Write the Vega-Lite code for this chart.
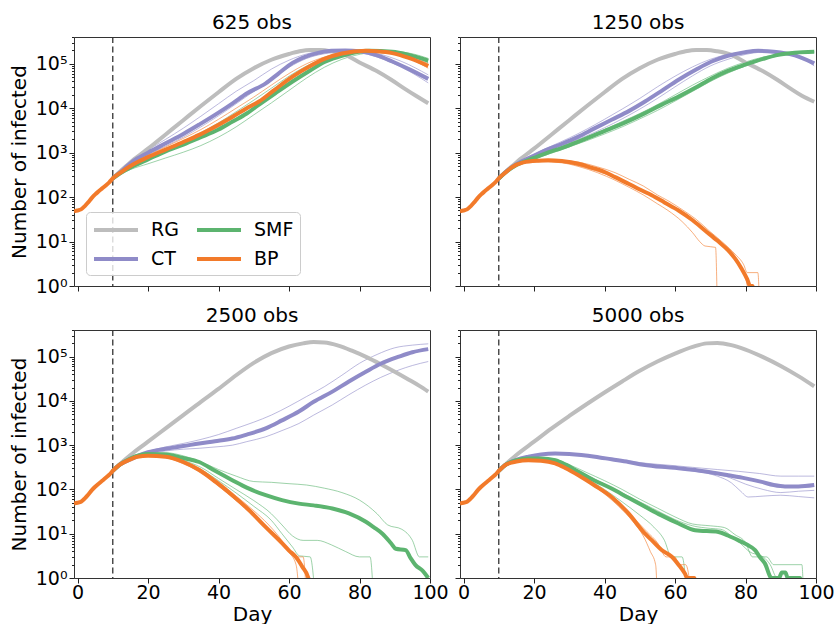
{
"$schema":"https://vega.github.io/schema/vega-lite/v6.json",
"background":"white",
"padding":{"left":8,"top":12,"right":5,"bottom":0},
"config":{
 "font":"DejaVu Sans",
 "view":{"stroke":"#333","strokeWidth":1},
 "axis":{"labelFont":"DejaVu Sans","titleFont":"DejaVu Sans","labelFontSize":19,"titleFontSize":20,"titleFontWeight":"normal","labelColor":"#000","titleColor":"#000","tickColor":"#222","domain":false,"grid":false},
 "title":{"font":"DejaVu Sans","fontSize":20,"fontWeight":"normal","color":"#000","offset":3,"frame":"group","anchor":"middle"}
},
"datasets":{"c":[
{"p":"a","m":"RG","s":"m","d":10,"v":263},{"p":"a","m":"RG","s":"m","d":12,"v":372},{"p":"a","m":"RG","s":"m","d":14,"v":513},{"p":"a","m":"RG","s":"m","d":16,"v":708},{"p":"a","m":"RG","s":"m","d":18,"v":933},{"p":"a","m":"RG","s":"m","d":20,"v":1230},{"p":"a","m":"RG","s":"m","d":25,"v":2570},{"p":"a","m":"RG","s":"m","d":30,"v":5370},{"p":"a","m":"RG","s":"m","d":35,"v":11200},{"p":"a","m":"RG","s":"m","d":40,"v":22900},{"p":"a","m":"RG","s":"m","d":45,"v":45700},{"p":"a","m":"RG","s":"m","d":50,"v":79400},{"p":"a","m":"RG","s":"m","d":55,"v":123000},{"p":"a","m":"RG","s":"m","d":60,"v":166000},{"p":"a","m":"RG","s":"m","d":63,"v":190500},{"p":"a","m":"RG","s":"m","d":66,"v":204000},{"p":"a","m":"RG","s":"m","d":69,"v":204000},{"p":"a","m":"RG","s":"m","d":72,"v":190500},{"p":"a","m":"RG","s":"m","d":76,"v":158500},{"p":"a","m":"RG","s":"m","d":80,"v":107000},{"p":"a","m":"RG","s":"m","d":85,"v":67600},{"p":"a","m":"RG","s":"m","d":89,"v":43600},{"p":"a","m":"RG","s":"m","d":93,"v":26900},{"p":"a","m":"RG","s":"m","d":96,"v":19050},{"p":"a","m":"RG","s":"m","d":99.5,"v":12900},
{"p":"a","m":"CT","s":"m","d":10,"v":263},{"p":"a","m":"CT","s":"m","d":12,"v":355},{"p":"a","m":"CT","s":"m","d":15.6,"v":631},{"p":"a","m":"CT","s":"m","d":20,"v":1000},{"p":"a","m":"CT","s":"m","d":25,"v":1622},{"p":"a","m":"CT","s":"m","d":30,"v":2630},{"p":"a","m":"CT","s":"m","d":34.5,"v":4266},{"p":"a","m":"CT","s":"m","d":40,"v":7943},{"p":"a","m":"CT","s":"m","d":44,"v":12880},{"p":"a","m":"CT","s":"m","d":48,"v":21380},{"p":"a","m":"CT","s":"m","d":53.4,"v":36310},{"p":"a","m":"CT","s":"m","d":57,"v":60260},{"p":"a","m":"CT","s":"m","d":61,"v":104700},{"p":"a","m":"CT","s":"m","d":64,"v":138000},{"p":"a","m":"CT","s":"m","d":68,"v":173800},{"p":"a","m":"CT","s":"m","d":72,"v":195000},{"p":"a","m":"CT","s":"m","d":76,"v":199500},{"p":"a","m":"CT","s":"m","d":80,"v":190500},{"p":"a","m":"CT","s":"m","d":85,"v":154900},{"p":"a","m":"CT","s":"m","d":89.3,"v":112200},{"p":"a","m":"CT","s":"m","d":94,"v":75860},{"p":"a","m":"CT","s":"m","d":99.5,"v":45710},
{"p":"a","m":"CT","s":"1","d":10,"v":263},{"p":"a","m":"CT","s":"1","d":15,"v":661},{"p":"a","m":"CT","s":"1","d":20,"v":1148},{"p":"a","m":"CT","s":"1","d":25,"v":1995},{"p":"a","m":"CT","s":"1","d":30,"v":3548},{"p":"a","m":"CT","s":"1","d":35,"v":6607},{"p":"a","m":"CT","s":"1","d":40,"v":12590},{"p":"a","m":"CT","s":"1","d":45,"v":23990},{"p":"a","m":"CT","s":"1","d":50,"v":41690},{"p":"a","m":"CT","s":"1","d":55,"v":75860},{"p":"a","m":"CT","s":"1","d":60,"v":120200},{"p":"a","m":"CT","s":"1","d":65,"v":166000},{"p":"a","m":"CT","s":"1","d":72,"v":199500},{"p":"a","m":"CT","s":"1","d":78,"v":190500},{"p":"a","m":"CT","s":"1","d":85,"v":141300},{"p":"a","m":"CT","s":"1","d":92,"v":83180},{"p":"a","m":"CT","s":"1","d":99.5,"v":37150},
{"p":"a","m":"CT","s":"2","d":10,"v":263},{"p":"a","m":"CT","s":"2","d":15,"v":575},{"p":"a","m":"CT","s":"2","d":20,"v":912},{"p":"a","m":"CT","s":"2","d":25,"v":1413},{"p":"a","m":"CT","s":"2","d":30,"v":2239},{"p":"a","m":"CT","s":"2","d":35,"v":3802},{"p":"a","m":"CT","s":"2","d":40,"v":6761},{"p":"a","m":"CT","s":"2","d":45,"v":12590},{"p":"a","m":"CT","s":"2","d":50,"v":23990},{"p":"a","m":"CT","s":"2","d":55,"v":44670},{"p":"a","m":"CT","s":"2","d":60,"v":83180},{"p":"a","m":"CT","s":"2","d":65,"v":131800},{"p":"a","m":"CT","s":"2","d":72,"v":177800},{"p":"a","m":"CT","s":"2","d":78,"v":195000},{"p":"a","m":"CT","s":"2","d":85,"v":169800},{"p":"a","m":"CT","s":"2","d":92,"v":112200},{"p":"a","m":"CT","s":"2","d":99.5,"v":56230},
{"p":"a","m":"SMF","s":"m","d":10,"v":263},{"p":"a","m":"SMF","s":"m","d":12,"v":339},{"p":"a","m":"SMF","s":"m","d":15.6,"v":490},{"p":"a","m":"SMF","s":"m","d":20,"v":708},{"p":"a","m":"SMF","s":"m","d":25,"v":1072},{"p":"a","m":"SMF","s":"m","d":30,"v":1514},{"p":"a","m":"SMF","s":"m","d":34.5,"v":2138},{"p":"a","m":"SMF","s":"m","d":40,"v":3311},{"p":"a","m":"SMF","s":"m","d":44,"v":5012},{"p":"a","m":"SMF","s":"m","d":48,"v":7586},{"p":"a","m":"SMF","s":"m","d":51.5,"v":12020},{"p":"a","m":"SMF","s":"m","d":56,"v":21380},{"p":"a","m":"SMF","s":"m","d":61,"v":39810},{"p":"a","m":"SMF","s":"m","d":66,"v":70790},{"p":"a","m":"SMF","s":"m","d":70.4,"v":112200},{"p":"a","m":"SMF","s":"m","d":75,"v":151400},{"p":"a","m":"SMF","s":"m","d":82.7,"v":195000},{"p":"a","m":"SMF","s":"m","d":89.3,"v":186200},{"p":"a","m":"SMF","s":"m","d":94,"v":158500},{"p":"a","m":"SMF","s":"m","d":99.5,"v":117500},
{"p":"a","m":"SMF","s":"1","d":10,"v":263},{"p":"a","m":"SMF","s":"1","d":15,"v":417},{"p":"a","m":"SMF","s":"1","d":20,"v":562},{"p":"a","m":"SMF","s":"1","d":25,"v":759},{"p":"a","m":"SMF","s":"1","d":30,"v":1023},{"p":"a","m":"SMF","s":"1","d":35,"v":1445},{"p":"a","m":"SMF","s":"1","d":40,"v":2239},{"p":"a","m":"SMF","s":"1","d":45,"v":3802},{"p":"a","m":"SMF","s":"1","d":50,"v":7079},{"p":"a","m":"SMF","s":"1","d":55,"v":13180},{"p":"a","m":"SMF","s":"1","d":60,"v":25120},{"p":"a","m":"SMF","s":"1","d":65,"v":47860},{"p":"a","m":"SMF","s":"1","d":70,"v":83180},{"p":"a","m":"SMF","s":"1","d":75,"v":125900},{"p":"a","m":"SMF","s":"1","d":82,"v":173800},{"p":"a","m":"SMF","s":"1","d":88,"v":190500},{"p":"a","m":"SMF","s":"1","d":94,"v":173800},{"p":"a","m":"SMF","s":"1","d":99.5,"v":131800},
{"p":"a","m":"SMF","s":"2","d":10,"v":263},{"p":"a","m":"SMF","s":"2","d":15,"v":525},{"p":"a","m":"SMF","s":"2","d":20,"v":794},{"p":"a","m":"SMF","s":"2","d":25,"v":1202},{"p":"a","m":"SMF","s":"2","d":30,"v":1820},{"p":"a","m":"SMF","s":"2","d":35,"v":2818},{"p":"a","m":"SMF","s":"2","d":40,"v":4677},{"p":"a","m":"SMF","s":"2","d":45,"v":8318},{"p":"a","m":"SMF","s":"2","d":50,"v":15140},{"p":"a","m":"SMF","s":"2","d":55,"v":28180},{"p":"a","m":"SMF","s":"2","d":60,"v":52480},{"p":"a","m":"SMF","s":"2","d":65,"v":89130},{"p":"a","m":"SMF","s":"2","d":70,"v":131800},{"p":"a","m":"SMF","s":"2","d":76,"v":173800},{"p":"a","m":"SMF","s":"2","d":83,"v":195000},{"p":"a","m":"SMF","s":"2","d":90,"v":182000},{"p":"a","m":"SMF","s":"2","d":95,"v":151400},{"p":"a","m":"SMF","s":"2","d":99.5,"v":104700},
{"p":"a","m":"BP","s":"m","d":-1,"v":48},{"p":"a","m":"BP","s":"m","d":0,"v":50},{"p":"a","m":"BP","s":"m","d":1,"v":53},{"p":"a","m":"BP","s":"m","d":2,"v":62},{"p":"a","m":"BP","s":"m","d":3,"v":76},{"p":"a","m":"BP","s":"m","d":4,"v":95},{"p":"a","m":"BP","s":"m","d":5,"v":115},{"p":"a","m":"BP","s":"m","d":6,"v":135},{"p":"a","m":"BP","s":"m","d":7,"v":157},{"p":"a","m":"BP","s":"m","d":8,"v":183},{"p":"a","m":"BP","s":"m","d":9,"v":215},{"p":"a","m":"BP","s":"m","d":10,"v":263},{"p":"a","m":"BP","s":"m","d":12,"v":347},{"p":"a","m":"BP","s":"m","d":15.6,"v":537},{"p":"a","m":"BP","s":"m","d":20,"v":794},{"p":"a","m":"BP","s":"m","d":25,"v":1175},{"p":"a","m":"BP","s":"m","d":30,"v":1738},{"p":"a","m":"BP","s":"m","d":34.5,"v":2512},{"p":"a","m":"BP","s":"m","d":40,"v":4266},{"p":"a","m":"BP","s":"m","d":44,"v":6457},{"p":"a","m":"BP","s":"m","d":48,"v":10000},{"p":"a","m":"BP","s":"m","d":51.5,"v":14130},{"p":"a","m":"BP","s":"m","d":56,"v":26300},{"p":"a","m":"BP","s":"m","d":61,"v":51290},{"p":"a","m":"BP","s":"m","d":66,"v":89130},{"p":"a","m":"BP","s":"m","d":70.4,"v":131800},{"p":"a","m":"BP","s":"m","d":75,"v":169800},{"p":"a","m":"BP","s":"m","d":81.8,"v":195000},{"p":"a","m":"BP","s":"m","d":85,"v":190500},{"p":"a","m":"BP","s":"m","d":89.3,"v":173800},{"p":"a","m":"BP","s":"m","d":94,"v":134900},{"p":"a","m":"BP","s":"m","d":99.5,"v":89130},
{"p":"a","m":"BP","s":"1","d":10,"v":263},{"p":"a","m":"BP","s":"1","d":15,"v":562},{"p":"a","m":"BP","s":"1","d":20,"v":871},{"p":"a","m":"BP","s":"1","d":25,"v":1349},{"p":"a","m":"BP","s":"1","d":30,"v":2089},{"p":"a","m":"BP","s":"1","d":35,"v":3311},{"p":"a","m":"BP","s":"1","d":40,"v":5623},{"p":"a","m":"BP","s":"1","d":45,"v":10000},{"p":"a","m":"BP","s":"1","d":50,"v":17780},{"p":"a","m":"BP","s":"1","d":55,"v":33110},{"p":"a","m":"BP","s":"1","d":60,"v":60260},{"p":"a","m":"BP","s":"1","d":65,"v":100000},{"p":"a","m":"BP","s":"1","d":70,"v":141300},{"p":"a","m":"BP","s":"1","d":76,"v":182000},{"p":"a","m":"BP","s":"1","d":82,"v":195000},{"p":"a","m":"BP","s":"1","d":88,"v":177800},{"p":"a","m":"BP","s":"1","d":94,"v":131800},{"p":"a","m":"BP","s":"1","d":99.5,"v":79430},
{"p":"a","m":"BP","s":"2","d":10,"v":263},{"p":"a","m":"BP","s":"2","d":15,"v":479},{"p":"a","m":"BP","s":"2","d":20,"v":708},{"p":"a","m":"BP","s":"2","d":25,"v":1047},{"p":"a","m":"BP","s":"2","d":30,"v":1549},{"p":"a","m":"BP","s":"2","d":35,"v":2344},{"p":"a","m":"BP","s":"2","d":40,"v":3802},{"p":"a","m":"BP","s":"2","d":45,"v":6607},{"p":"a","m":"BP","s":"2","d":50,"v":12020},{"p":"a","m":"BP","s":"2","d":55,"v":22910},{"p":"a","m":"BP","s":"2","d":60,"v":43650},{"p":"a","m":"BP","s":"2","d":65,"v":79430},{"p":"a","m":"BP","s":"2","d":70,"v":120200},{"p":"a","m":"BP","s":"2","d":76,"v":166000},{"p":"a","m":"BP","s":"2","d":82,"v":190500},{"p":"a","m":"BP","s":"2","d":88,"v":190500},{"p":"a","m":"BP","s":"2","d":94,"v":151400},{"p":"a","m":"BP","s":"2","d":99.5,"v":100000},

{"p":"b","m":"RG","s":"m","d":10,"v":263},{"p":"b","m":"RG","s":"m","d":12,"v":372},{"p":"b","m":"RG","s":"m","d":14,"v":513},{"p":"b","m":"RG","s":"m","d":16,"v":708},{"p":"b","m":"RG","s":"m","d":18,"v":933},{"p":"b","m":"RG","s":"m","d":20,"v":1230},{"p":"b","m":"RG","s":"m","d":25,"v":2570},{"p":"b","m":"RG","s":"m","d":30,"v":5370},{"p":"b","m":"RG","s":"m","d":35,"v":11200},{"p":"b","m":"RG","s":"m","d":40,"v":22900},{"p":"b","m":"RG","s":"m","d":45,"v":45700},{"p":"b","m":"RG","s":"m","d":50,"v":79400},{"p":"b","m":"RG","s":"m","d":55,"v":123000},{"p":"b","m":"RG","s":"m","d":60,"v":166000},{"p":"b","m":"RG","s":"m","d":63,"v":190500},{"p":"b","m":"RG","s":"m","d":66,"v":204000},{"p":"b","m":"RG","s":"m","d":69,"v":204000},{"p":"b","m":"RG","s":"m","d":72,"v":190500},{"p":"b","m":"RG","s":"m","d":76,"v":158500},{"p":"b","m":"RG","s":"m","d":80,"v":107000},{"p":"b","m":"RG","s":"m","d":85,"v":67600},{"p":"b","m":"RG","s":"m","d":89,"v":43600},{"p":"b","m":"RG","s":"m","d":93,"v":26900},{"p":"b","m":"RG","s":"m","d":96,"v":19050},{"p":"b","m":"RG","s":"m","d":99.5,"v":14000},
{"p":"b","m":"CT","s":"m","d":10,"v":263},{"p":"b","m":"CT","s":"m","d":12,"v":372},{"p":"b","m":"CT","s":"m","d":15,"v":550},{"p":"b","m":"CT","s":"m","d":20,"v":851},{"p":"b","m":"CT","s":"m","d":23.2,"v":1122},{"p":"b","m":"CT","s":"m","d":28,"v":1585},{"p":"b","m":"CT","s":"m","d":32.6,"v":2291},{"p":"b","m":"CT","s":"m","d":37,"v":3467},{"p":"b","m":"CT","s":"m","d":42,"v":5495},{"p":"b","m":"CT","s":"m","d":47,"v":8710},{"p":"b","m":"CT","s":"m","d":51.5,"v":14130},{"p":"b","m":"CT","s":"m","d":56,"v":23990},{"p":"b","m":"CT","s":"m","d":61,"v":43650},{"p":"b","m":"CT","s":"m","d":66,"v":74130},{"p":"b","m":"CT","s":"m","d":70.4,"v":112200},{"p":"b","m":"CT","s":"m","d":75,"v":151400},{"p":"b","m":"CT","s":"m","d":79.9,"v":182000},{"p":"b","m":"CT","s":"m","d":83.6,"v":195000},{"p":"b","m":"CT","s":"m","d":88,"v":186200},{"p":"b","m":"CT","s":"m","d":94,"v":154900},{"p":"b","m":"CT","s":"m","d":99.5,"v":102300},
{"p":"b","m":"CT","s":"1","d":10,"v":263},{"p":"b","m":"CT","s":"1","d":15,"v":575},{"p":"b","m":"CT","s":"1","d":20,"v":933},{"p":"b","m":"CT","s":"1","d":25,"v":1413},{"p":"b","m":"CT","s":"1","d":30,"v":2138},{"p":"b","m":"CT","s":"1","d":35,"v":3388},{"p":"b","m":"CT","s":"1","d":40,"v":5623},{"p":"b","m":"CT","s":"1","d":45,"v":9550},{"p":"b","m":"CT","s":"1","d":50,"v":16600},{"p":"b","m":"CT","s":"1","d":55,"v":30200},{"p":"b","m":"CT","s":"1","d":60,"v":52480},{"p":"b","m":"CT","s":"1","d":65,"v":85110},{"p":"b","m":"CT","s":"1","d":70,"v":125900},{"p":"b","m":"CT","s":"1","d":75,"v":162200},{"p":"b","m":"CT","s":"1","d":80,"v":186200},{"p":"b","m":"CT","s":"1","d":85,"v":190500},{"p":"b","m":"CT","s":"1","d":90,"v":173800},{"p":"b","m":"CT","s":"1","d":95,"v":144500},{"p":"b","m":"CT","s":"1","d":99.5,"v":107200},
{"p":"b","m":"CT","s":"2","d":10,"v":263},{"p":"b","m":"CT","s":"2","d":15,"v":525},{"p":"b","m":"CT","s":"2","d":20,"v":776},{"p":"b","m":"CT","s":"2","d":25,"v":1122},{"p":"b","m":"CT","s":"2","d":30,"v":1660},{"p":"b","m":"CT","s":"2","d":35,"v":2399},{"p":"b","m":"CT","s":"2","d":40,"v":3631},{"p":"b","m":"CT","s":"2","d":45,"v":5754},{"p":"b","m":"CT","s":"2","d":50,"v":9550},{"p":"b","m":"CT","s":"2","d":55,"v":16600},{"p":"b","m":"CT","s":"2","d":60,"v":30200},{"p":"b","m":"CT","s":"2","d":65,"v":53700},{"p":"b","m":"CT","s":"2","d":70,"v":89130},{"p":"b","m":"CT","s":"2","d":75,"v":125900},{"p":"b","m":"CT","s":"2","d":80,"v":162200},{"p":"b","m":"CT","s":"2","d":85,"v":182000},{"p":"b","m":"CT","s":"2","d":90,"v":177800},{"p":"b","m":"CT","s":"2","d":95,"v":147900},{"p":"b","m":"CT","s":"2","d":99.5,"v":89130},
{"p":"b","m":"SMF","s":"m","d":10,"v":263},{"p":"b","m":"SMF","s":"m","d":12,"v":363},{"p":"b","m":"SMF","s":"m","d":15,"v":525},{"p":"b","m":"SMF","s":"m","d":20,"v":759},{"p":"b","m":"SMF","s":"m","d":23.2,"v":955},{"p":"b","m":"SMF","s":"m","d":28,"v":1288},{"p":"b","m":"SMF","s":"m","d":32.6,"v":1778},{"p":"b","m":"SMF","s":"m","d":37,"v":2455},{"p":"b","m":"SMF","s":"m","d":42,"v":3548},{"p":"b","m":"SMF","s":"m","d":47,"v":5248},{"p":"b","m":"SMF","s":"m","d":51.5,"v":7762},{"p":"b","m":"SMF","s":"m","d":56,"v":11750},{"p":"b","m":"SMF","s":"m","d":61,"v":18200},{"p":"b","m":"SMF","s":"m","d":66,"v":29510},{"p":"b","m":"SMF","s":"m","d":70.4,"v":46770},{"p":"b","m":"SMF","s":"m","d":75,"v":69180},{"p":"b","m":"SMF","s":"m","d":79.9,"v":95500},{"p":"b","m":"SMF","s":"m","d":85,"v":128800},{"p":"b","m":"SMF","s":"m","d":89.3,"v":158500},{"p":"b","m":"SMF","s":"m","d":94,"v":177800},{"p":"b","m":"SMF","s":"m","d":99.5,"v":186200},
{"p":"b","m":"SMF","s":"1","d":10,"v":263},{"p":"b","m":"SMF","s":"1","d":15,"v":537},{"p":"b","m":"SMF","s":"1","d":20,"v":794},{"p":"b","m":"SMF","s":"1","d":25,"v":1096},{"p":"b","m":"SMF","s":"1","d":30,"v":1585},{"p":"b","m":"SMF","s":"1","d":35,"v":2239},{"p":"b","m":"SMF","s":"1","d":40,"v":3311},{"p":"b","m":"SMF","s":"1","d":45,"v":5012},{"p":"b","m":"SMF","s":"1","d":50,"v":7586},{"p":"b","m":"SMF","s":"1","d":55,"v":12020},{"p":"b","m":"SMF","s":"1","d":60,"v":19950},{"p":"b","m":"SMF","s":"1","d":65,"v":33110},{"p":"b","m":"SMF","s":"1","d":70,"v":52480},{"p":"b","m":"SMF","s":"1","d":75,"v":79430},{"p":"b","m":"SMF","s":"1","d":80,"v":109600},{"p":"b","m":"SMF","s":"1","d":85,"v":141300},{"p":"b","m":"SMF","s":"1","d":90,"v":166000},{"p":"b","m":"SMF","s":"1","d":95,"v":182000},{"p":"b","m":"SMF","s":"1","d":99.5,"v":186200},
{"p":"b","m":"SMF","s":"2","d":10,"v":263},{"p":"b","m":"SMF","s":"2","d":15,"v":513},{"p":"b","m":"SMF","s":"2","d":20,"v":724},{"p":"b","m":"SMF","s":"2","d":25,"v":977},{"p":"b","m":"SMF","s":"2","d":30,"v":1349},{"p":"b","m":"SMF","s":"2","d":35,"v":1862},{"p":"b","m":"SMF","s":"2","d":40,"v":2630},{"p":"b","m":"SMF","s":"2","d":45,"v":3802},{"p":"b","m":"SMF","s":"2","d":50,"v":5754},{"p":"b","m":"SMF","s":"2","d":55,"v":8913},{"p":"b","m":"SMF","s":"2","d":60,"v":14450},{"p":"b","m":"SMF","s":"2","d":65,"v":23990},{"p":"b","m":"SMF","s":"2","d":70,"v":39810},{"p":"b","m":"SMF","s":"2","d":75,"v":61660},{"p":"b","m":"SMF","s":"2","d":80,"v":89130},{"p":"b","m":"SMF","s":"2","d":85,"v":123000},{"p":"b","m":"SMF","s":"2","d":90,"v":154900},{"p":"b","m":"SMF","s":"2","d":95,"v":173800},{"p":"b","m":"SMF","s":"2","d":99.5,"v":182000},
{"p":"b","m":"BP","s":"m","d":-1,"v":48},{"p":"b","m":"BP","s":"m","d":0,"v":50},{"p":"b","m":"BP","s":"m","d":1,"v":53},{"p":"b","m":"BP","s":"m","d":2,"v":62},{"p":"b","m":"BP","s":"m","d":3,"v":76},{"p":"b","m":"BP","s":"m","d":4,"v":95},{"p":"b","m":"BP","s":"m","d":5,"v":115},{"p":"b","m":"BP","s":"m","d":6,"v":135},{"p":"b","m":"BP","s":"m","d":7,"v":157},{"p":"b","m":"BP","s":"m","d":8,"v":183},{"p":"b","m":"BP","s":"m","d":9,"v":215},{"p":"b","m":"BP","s":"m","d":10,"v":263},{"p":"b","m":"BP","s":"m","d":12,"v":363},{"p":"b","m":"BP","s":"m","d":13.7,"v":468},{"p":"b","m":"BP","s":"m","d":17,"v":603},{"p":"b","m":"BP","s":"m","d":21.3,"v":661},{"p":"b","m":"BP","s":"m","d":24,"v":676},{"p":"b","m":"BP","s":"m","d":27.9,"v":646},{"p":"b","m":"BP","s":"m","d":32.6,"v":562},{"p":"b","m":"BP","s":"m","d":36,"v":468},{"p":"b","m":"BP","s":"m","d":40.2,"v":363},{"p":"b","m":"BP","s":"m","d":43,"v":282},{"p":"b","m":"BP","s":"m","d":46.8,"v":200},{"p":"b","m":"BP","s":"m","d":50,"v":148},{"p":"b","m":"BP","s":"m","d":53.4,"v":110},{"p":"b","m":"BP","s":"m","d":57,"v":75.9},{"p":"b","m":"BP","s":"m","d":61,"v":50.1},{"p":"b","m":"BP","s":"m","d":65,"v":30.2},{"p":"b","m":"BP","s":"m","d":68.5,"v":17.8},{"p":"b","m":"BP","s":"m","d":72,"v":10.5},{"p":"b","m":"BP","s":"m","d":75.1,"v":6.31},{"p":"b","m":"BP","s":"m","d":77,"v":4.17},{"p":"b","m":"BP","s":"m","d":78.9,"v":2.45},{"p":"b","m":"BP","s":"m","d":80.5,"v":1.41},{"p":"b","m":"BP","s":"m","d":81.3,"v":1},{"p":"b","m":"BP","s":"m","d":82,"v":1},{"p":"b","m":"BP","s":"m","d":82.5,"v":0.3},
{"p":"b","m":"BP","s":"1","d":10,"v":263},{"p":"b","m":"BP","s":"1","d":12,"v":363},{"p":"b","m":"BP","s":"1","d":17,"v":603},{"p":"b","m":"BP","s":"1","d":22,"v":661},{"p":"b","m":"BP","s":"1","d":28,"v":661},{"p":"b","m":"BP","s":"1","d":33,"v":603},{"p":"b","m":"BP","s":"1","d":38,"v":479},{"p":"b","m":"BP","s":"1","d":43,"v":355},{"p":"b","m":"BP","s":"1","d":47,"v":251},{"p":"b","m":"BP","s":"1","d":51,"v":178},{"p":"b","m":"BP","s":"1","d":55,"v":112},{"p":"b","m":"BP","s":"1","d":58,"v":83.2},{"p":"b","m":"BP","s":"1","d":62,"v":52.5},{"p":"b","m":"BP","s":"1","d":66,"v":31.6},{"p":"b","m":"BP","s":"1","d":70,"v":16.6},{"p":"b","m":"BP","s":"1","d":74,"v":8.91},{"p":"b","m":"BP","s":"1","d":77,"v":5.25},{"p":"b","m":"BP","s":"1","d":79.5,"v":3},{"p":"b","m":"BP","s":"1","d":80.5,"v":2},{"p":"b","m":"BP","s":"1","d":83.5,"v":2},{"p":"b","m":"BP","s":"1","d":84,"v":0.3},
{"p":"b","m":"BP","s":"2","d":10,"v":263},{"p":"b","m":"BP","s":"2","d":12,"v":363},{"p":"b","m":"BP","s":"2","d":17,"v":589},{"p":"b","m":"BP","s":"2","d":22,"v":631},{"p":"b","m":"BP","s":"2","d":28,"v":589},{"p":"b","m":"BP","s":"2","d":33,"v":479},{"p":"b","m":"BP","s":"2","d":38,"v":355},{"p":"b","m":"BP","s":"2","d":43,"v":240},{"p":"b","m":"BP","s":"2","d":47,"v":166},{"p":"b","m":"BP","s":"2","d":51,"v":112},{"p":"b","m":"BP","s":"2","d":55,"v":70.8},{"p":"b","m":"BP","s":"2","d":58,"v":50.1},{"p":"b","m":"BP","s":"2","d":62,"v":28.2},{"p":"b","m":"BP","s":"2","d":65,"v":15.8},{"p":"b","m":"BP","s":"2","d":67,"v":10},{"p":"b","m":"BP","s":"2","d":68.5,"v":7.94},{"p":"b","m":"BP","s":"2","d":71.5,"v":7.4},{"p":"b","m":"BP","s":"2","d":72,"v":0.3},
{"p":"b","m":"BP","s":"3","d":10,"v":263},{"p":"b","m":"BP","s":"3","d":12,"v":363},{"p":"b","m":"BP","s":"3","d":17,"v":589},{"p":"b","m":"BP","s":"3","d":22,"v":631},{"p":"b","m":"BP","s":"3","d":28,"v":603},{"p":"b","m":"BP","s":"3","d":33,"v":501},{"p":"b","m":"BP","s":"3","d":38,"v":380},{"p":"b","m":"BP","s":"3","d":43,"v":275},{"p":"b","m":"BP","s":"3","d":47,"v":200},{"p":"b","m":"BP","s":"3","d":51,"v":141},{"p":"b","m":"BP","s":"3","d":55,"v":95.5},{"p":"b","m":"BP","s":"3","d":58,"v":70.8},{"p":"b","m":"BP","s":"3","d":62,"v":45.7},{"p":"b","m":"BP","s":"3","d":66,"v":26.3},{"p":"b","m":"BP","s":"3","d":70,"v":14.1},{"p":"b","m":"BP","s":"3","d":74,"v":7.59},{"p":"b","m":"BP","s":"3","d":77,"v":4.17},{"p":"b","m":"BP","s":"3","d":79,"v":2.51},{"p":"b","m":"BP","s":"3","d":80.5,"v":1},{"p":"b","m":"BP","s":"3","d":81,"v":0.3},

{"p":"c","m":"RG","s":"m","d":10,"v":263},{"p":"c","m":"RG","s":"m","d":12,"v":372},{"p":"c","m":"RG","s":"m","d":14,"v":513},{"p":"c","m":"RG","s":"m","d":16,"v":692},{"p":"c","m":"RG","s":"m","d":18,"v":912},{"p":"c","m":"RG","s":"m","d":20,"v":1202},{"p":"c","m":"RG","s":"m","d":25,"v":2399},{"p":"c","m":"RG","s":"m","d":30,"v":4786},{"p":"c","m":"RG","s":"m","d":35,"v":9550},{"p":"c","m":"RG","s":"m","d":40,"v":18620},{"p":"c","m":"RG","s":"m","d":45,"v":38020},{"p":"c","m":"RG","s":"m","d":50,"v":72440},{"p":"c","m":"RG","s":"m","d":55,"v":120200},{"p":"c","m":"RG","s":"m","d":60,"v":169800},{"p":"c","m":"RG","s":"m","d":64,"v":199500},{"p":"c","m":"RG","s":"m","d":67,"v":213800},{"p":"c","m":"RG","s":"m","d":70,"v":208900},{"p":"c","m":"RG","s":"m","d":74,"v":177800},{"p":"c","m":"RG","s":"m","d":78,"v":134900},{"p":"c","m":"RG","s":"m","d":82,"v":97720},{"p":"c","m":"RG","s":"m","d":86,"v":67610},{"p":"c","m":"RG","s":"m","d":90,"v":45710},{"p":"c","m":"RG","s":"m","d":94,"v":30200},{"p":"c","m":"RG","s":"m","d":97,"v":21880},{"p":"c","m":"RG","s":"m","d":99.5,"v":16220},
{"p":"c","m":"CT","s":"m","d":10,"v":263},{"p":"c","m":"CT","s":"m","d":12,"v":363},{"p":"c","m":"CT","s":"m","d":15,"v":479},{"p":"c","m":"CT","s":"m","d":20,"v":692},{"p":"c","m":"CT","s":"m","d":25,"v":832},{"p":"c","m":"CT","s":"m","d":30,"v":955},{"p":"c","m":"CT","s":"m","d":34.5,"v":1096},{"p":"c","m":"CT","s":"m","d":39,"v":1230},{"p":"c","m":"CT","s":"m","d":43.9,"v":1413},{"p":"c","m":"CT","s":"m","d":48,"v":1738},{"p":"c","m":"CT","s":"m","d":53.4,"v":2399},{"p":"c","m":"CT","s":"m","d":58,"v":3631},{"p":"c","m":"CT","s":"m","d":62.8,"v":5754},{"p":"c","m":"CT","s":"m","d":67,"v":9550},{"p":"c","m":"CT","s":"m","d":72.3,"v":16220},{"p":"c","m":"CT","s":"m","d":77,"v":27540},{"p":"c","m":"CT","s":"m","d":81.8,"v":45710},{"p":"c","m":"CT","s":"m","d":86,"v":69180},{"p":"c","m":"CT","s":"m","d":91.2,"v":100000},{"p":"c","m":"CT","s":"m","d":95,"v":125900},{"p":"c","m":"CT","s":"m","d":99.5,"v":147900},
{"p":"c","m":"CT","s":"1","d":10,"v":263},{"p":"c","m":"CT","s":"1","d":15,"v":501},{"p":"c","m":"CT","s":"1","d":20,"v":724},{"p":"c","m":"CT","s":"1","d":25,"v":912},{"p":"c","m":"CT","s":"1","d":30,"v":1096},{"p":"c","m":"CT","s":"1","d":35,"v":1349},{"p":"c","m":"CT","s":"1","d":40,"v":1738},{"p":"c","m":"CT","s":"1","d":45,"v":2399},{"p":"c","m":"CT","s":"1","d":50,"v":3311},{"p":"c","m":"CT","s":"1","d":55,"v":4786},{"p":"c","m":"CT","s":"1","d":60,"v":7586},{"p":"c","m":"CT","s":"1","d":65,"v":12590},{"p":"c","m":"CT","s":"1","d":70,"v":20890},{"p":"c","m":"CT","s":"1","d":75,"v":38020},{"p":"c","m":"CT","s":"1","d":80,"v":70790},{"p":"c","m":"CT","s":"1","d":85,"v":112200},{"p":"c","m":"CT","s":"1","d":90,"v":158500},{"p":"c","m":"CT","s":"1","d":95,"v":182000},{"p":"c","m":"CT","s":"1","d":99.5,"v":195000},
{"p":"c","m":"CT","s":"2","d":10,"v":263},{"p":"c","m":"CT","s":"2","d":15,"v":457},{"p":"c","m":"CT","s":"2","d":20,"v":631},{"p":"c","m":"CT","s":"2","d":25,"v":741},{"p":"c","m":"CT","s":"2","d":30,"v":813},{"p":"c","m":"CT","s":"2","d":34.5,"v":851},{"p":"c","m":"CT","s":"2","d":39,"v":912},{"p":"c","m":"CT","s":"2","d":43.9,"v":1000},{"p":"c","m":"CT","s":"2","d":48,"v":1202},{"p":"c","m":"CT","s":"2","d":53.4,"v":1549},{"p":"c","m":"CT","s":"2","d":58,"v":2138},{"p":"c","m":"CT","s":"2","d":62.8,"v":3090},{"p":"c","m":"CT","s":"2","d":67,"v":4786},{"p":"c","m":"CT","s":"2","d":72.3,"v":8128},{"p":"c","m":"CT","s":"2","d":77,"v":13800},{"p":"c","m":"CT","s":"2","d":81.8,"v":22910},{"p":"c","m":"CT","s":"2","d":86,"v":33880},{"p":"c","m":"CT","s":"2","d":91.2,"v":50120},{"p":"c","m":"CT","s":"2","d":95,"v":63100},{"p":"c","m":"CT","s":"2","d":99.5,"v":77620},
{"p":"c","m":"SMF","s":"m","d":10,"v":263},{"p":"c","m":"SMF","s":"m","d":12,"v":363},{"p":"c","m":"SMF","s":"m","d":15,"v":501},{"p":"c","m":"SMF","s":"m","d":20,"v":631},{"p":"c","m":"SMF","s":"m","d":25,"v":617},{"p":"c","m":"SMF","s":"m","d":30,"v":513},{"p":"c","m":"SMF","s":"m","d":34.5,"v":417},{"p":"c","m":"SMF","s":"m","d":39,"v":263},{"p":"c","m":"SMF","s":"m","d":43.9,"v":162},{"p":"c","m":"SMF","s":"m","d":48,"v":110},{"p":"c","m":"SMF","s":"m","d":53.4,"v":74.1},{"p":"c","m":"SMF","s":"m","d":58,"v":57.5},{"p":"c","m":"SMF","s":"m","d":62.8,"v":47.9},{"p":"c","m":"SMF","s":"m","d":67,"v":43.7},{"p":"c","m":"SMF","s":"m","d":72.3,"v":37.2},{"p":"c","m":"SMF","s":"m","d":77,"v":28.8},{"p":"c","m":"SMF","s":"m","d":81.8,"v":18.6},{"p":"c","m":"SMF","s":"m","d":84,"v":14.1},{"p":"c","m":"SMF","s":"m","d":86.5,"v":10},{"p":"c","m":"SMF","s":"m","d":89,"v":6.03},{"p":"c","m":"SMF","s":"m","d":90.3,"v":4.57},{"p":"c","m":"SMF","s":"m","d":93.1,"v":4.27},{"p":"c","m":"SMF","s":"m","d":94.5,"v":2.82},{"p":"c","m":"SMF","s":"m","d":95.9,"v":1.95},{"p":"c","m":"SMF","s":"m","d":97.8,"v":1.48},{"p":"c","m":"SMF","s":"m","d":99.5,"v":1},
{"p":"c","m":"SMF","s":"1","d":10,"v":263},{"p":"c","m":"SMF","s":"1","d":15,"v":479},{"p":"c","m":"SMF","s":"1","d":20,"v":661},{"p":"c","m":"SMF","s":"1","d":25,"v":676},{"p":"c","m":"SMF","s":"1","d":30,"v":575},{"p":"c","m":"SMF","s":"1","d":35,"v":417},{"p":"c","m":"SMF","s":"1","d":40,"v":282},{"p":"c","m":"SMF","s":"1","d":45,"v":200},{"p":"c","m":"SMF","s":"1","d":50,"v":151},{"p":"c","m":"SMF","s":"1","d":55,"v":145},{"p":"c","m":"SMF","s":"1","d":60,"v":135},{"p":"c","m":"SMF","s":"1","d":65,"v":126},{"p":"c","m":"SMF","s":"1","d":70,"v":107},{"p":"c","m":"SMF","s":"1","d":75,"v":85.1},{"p":"c","m":"SMF","s":"1","d":80,"v":57.5},{"p":"c","m":"SMF","s":"1","d":85,"v":28.2},{"p":"c","m":"SMF","s":"1","d":88,"v":15.8},{"p":"c","m":"SMF","s":"1","d":92,"v":12.6},{"p":"c","m":"SMF","s":"1","d":95,"v":7.08},{"p":"c","m":"SMF","s":"1","d":97,"v":3},{"p":"c","m":"SMF","s":"1","d":99.5,"v":3},
{"p":"c","m":"SMF","s":"2","d":10,"v":263},{"p":"c","m":"SMF","s":"2","d":20,"v":631},{"p":"c","m":"SMF","s":"2","d":25,"v":603},{"p":"c","m":"SMF","s":"2","d":30,"v":457},{"p":"c","m":"SMF","s":"2","d":35,"v":316},{"p":"c","m":"SMF","s":"2","d":40,"v":178},{"p":"c","m":"SMF","s":"2","d":45,"v":100},{"p":"c","m":"SMF","s":"2","d":50,"v":56.2},{"p":"c","m":"SMF","s":"2","d":55,"v":28.2},{"p":"c","m":"SMF","s":"2","d":58,"v":15.8},{"p":"c","m":"SMF","s":"2","d":61,"v":8.91},{"p":"c","m":"SMF","s":"2","d":64,"v":7.08},{"p":"c","m":"SMF","s":"2","d":68,"v":7.08},{"p":"c","m":"SMF","s":"2","d":72,"v":5.62},{"p":"c","m":"SMF","s":"2","d":76,"v":3.98},{"p":"c","m":"SMF","s":"2","d":80,"v":3},{"p":"c","m":"SMF","s":"2","d":83,"v":3},{"p":"c","m":"SMF","s":"2","d":84,"v":0.3},
{"p":"c","m":"SMF","s":"3","d":10,"v":263},{"p":"c","m":"SMF","s":"3","d":20,"v":617},{"p":"c","m":"SMF","s":"3","d":25,"v":575},{"p":"c","m":"SMF","s":"3","d":30,"v":417},{"p":"c","m":"SMF","s":"3","d":35,"v":282},{"p":"c","m":"SMF","s":"3","d":40,"v":158},{"p":"c","m":"SMF","s":"3","d":45,"v":83.2},{"p":"c","m":"SMF","s":"3","d":50,"v":41.7},{"p":"c","m":"SMF","s":"3","d":55,"v":20},{"p":"c","m":"SMF","s":"3","d":58,"v":10},{"p":"c","m":"SMF","s":"3","d":61,"v":5},{"p":"c","m":"SMF","s":"3","d":63,"v":3.16},{"p":"c","m":"SMF","s":"3","d":66,"v":3},{"p":"c","m":"SMF","s":"3","d":67.5,"v":0.3},
{"p":"c","m":"BP","s":"m","d":-1,"v":48},{"p":"c","m":"BP","s":"m","d":0,"v":50},{"p":"c","m":"BP","s":"m","d":1,"v":53},{"p":"c","m":"BP","s":"m","d":2,"v":62},{"p":"c","m":"BP","s":"m","d":3,"v":76},{"p":"c","m":"BP","s":"m","d":4,"v":95},{"p":"c","m":"BP","s":"m","d":5,"v":115},{"p":"c","m":"BP","s":"m","d":6,"v":135},{"p":"c","m":"BP","s":"m","d":7,"v":157},{"p":"c","m":"BP","s":"m","d":8,"v":183},{"p":"c","m":"BP","s":"m","d":9,"v":215},{"p":"c","m":"BP","s":"m","d":10,"v":263},{"p":"c","m":"BP","s":"m","d":12,"v":363},{"p":"c","m":"BP","s":"m","d":15,"v":479},{"p":"c","m":"BP","s":"m","d":17,"v":550},{"p":"c","m":"BP","s":"m","d":20,"v":575},{"p":"c","m":"BP","s":"m","d":25,"v":550},{"p":"c","m":"BP","s":"m","d":30,"v":417},{"p":"c","m":"BP","s":"m","d":34.5,"v":275},{"p":"c","m":"BP","s":"m","d":39.2,"v":148},{"p":"c","m":"BP","s":"m","d":43.9,"v":74.1},{"p":"c","m":"BP","s":"m","d":48.7,"v":33.9},{"p":"c","m":"BP","s":"m","d":53.4,"v":14.1},{"p":"c","m":"BP","s":"m","d":58.1,"v":6.03},{"p":"c","m":"BP","s":"m","d":60,"v":4.17},{"p":"c","m":"BP","s":"m","d":61.9,"v":3.02},{"p":"c","m":"BP","s":"m","d":63.8,"v":1.78},{"p":"c","m":"BP","s":"m","d":65.5,"v":1},{"p":"c","m":"BP","s":"m","d":66,"v":0.3},
{"p":"c","m":"BP","s":"1","d":10,"v":263},{"p":"c","m":"BP","s":"1","d":12,"v":363},{"p":"c","m":"BP","s":"1","d":17,"v":550},{"p":"c","m":"BP","s":"1","d":20,"v":562},{"p":"c","m":"BP","s":"1","d":25,"v":525},{"p":"c","m":"BP","s":"1","d":30,"v":380},{"p":"c","m":"BP","s":"1","d":35,"v":240},{"p":"c","m":"BP","s":"1","d":40,"v":120},{"p":"c","m":"BP","s":"1","d":45,"v":56.2},{"p":"c","m":"BP","s":"1","d":50,"v":25.1},{"p":"c","m":"BP","s":"1","d":54,"v":12},{"p":"c","m":"BP","s":"1","d":57,"v":7.08},{"p":"c","m":"BP","s":"1","d":60,"v":3.8},{"p":"c","m":"BP","s":"1","d":62,"v":2},{"p":"c","m":"BP","s":"1","d":63,"v":0.3},
{"p":"c","m":"BP","s":"2","d":10,"v":263},{"p":"c","m":"BP","s":"2","d":12,"v":363},{"p":"c","m":"BP","s":"2","d":17,"v":550},{"p":"c","m":"BP","s":"2","d":20,"v":589},{"p":"c","m":"BP","s":"2","d":25,"v":575},{"p":"c","m":"BP","s":"2","d":30,"v":447},{"p":"c","m":"BP","s":"2","d":35,"v":288},{"p":"c","m":"BP","s":"2","d":40,"v":151},{"p":"c","m":"BP","s":"2","d":45,"v":70.8},{"p":"c","m":"BP","s":"2","d":50,"v":33.1},{"p":"c","m":"BP","s":"2","d":54,"v":16.6},{"p":"c","m":"BP","s":"2","d":57,"v":8.91},{"p":"c","m":"BP","s":"2","d":60,"v":4.17},{"p":"c","m":"BP","s":"2","d":62,"v":3},{"p":"c","m":"BP","s":"2","d":64,"v":3},{"p":"c","m":"BP","s":"2","d":65,"v":0.3},

{"p":"d","m":"RG","s":"m","d":10,"v":263},{"p":"d","m":"RG","s":"m","d":12,"v":372},{"p":"d","m":"RG","s":"m","d":15,"v":603},{"p":"d","m":"RG","s":"m","d":20,"v":1202},{"p":"d","m":"RG","s":"m","d":25,"v":2399},{"p":"d","m":"RG","s":"m","d":30,"v":4571},{"p":"d","m":"RG","s":"m","d":35,"v":8511},{"p":"d","m":"RG","s":"m","d":40,"v":15490},{"p":"d","m":"RG","s":"m","d":45,"v":27540},{"p":"d","m":"RG","s":"m","d":50,"v":47860},{"p":"d","m":"RG","s":"m","d":55,"v":77620},{"p":"d","m":"RG","s":"m","d":60,"v":117500},{"p":"d","m":"RG","s":"m","d":65,"v":166000},{"p":"d","m":"RG","s":"m","d":69,"v":199500},{"p":"d","m":"RG","s":"m","d":72,"v":204200},{"p":"d","m":"RG","s":"m","d":76,"v":182000},{"p":"d","m":"RG","s":"m","d":80,"v":144500},{"p":"d","m":"RG","s":"m","d":85,"v":97720},{"p":"d","m":"RG","s":"m","d":90,"v":61660},{"p":"d","m":"RG","s":"m","d":95,"v":36310},{"p":"d","m":"RG","s":"m","d":99.5,"v":21380},
{"p":"d","m":"CT","s":"m","d":10,"v":263},{"p":"d","m":"CT","s":"m","d":12,"v":363},{"p":"d","m":"CT","s":"m","d":15,"v":468},{"p":"d","m":"CT","s":"m","d":18.4,"v":550},{"p":"d","m":"CT","s":"m","d":22,"v":617},{"p":"d","m":"CT","s":"m","d":26,"v":646},{"p":"d","m":"CT","s":"m","d":30,"v":631},{"p":"d","m":"CT","s":"m","d":37.3,"v":550},{"p":"d","m":"CT","s":"m","d":42,"v":479},{"p":"d","m":"CT","s":"m","d":46.8,"v":417},{"p":"d","m":"CT","s":"m","d":51,"v":363},{"p":"d","m":"CT","s":"m","d":56.2,"v":324},{"p":"d","m":"CT","s":"m","d":61,"v":302},{"p":"d","m":"CT","s":"m","d":65.7,"v":275},{"p":"d","m":"CT","s":"m","d":70,"v":245},{"p":"d","m":"CT","s":"m","d":75.1,"v":209},{"p":"d","m":"CT","s":"m","d":80,"v":178},{"p":"d","m":"CT","s":"m","d":84.6,"v":148},{"p":"d","m":"CT","s":"m","d":88,"v":126},{"p":"d","m":"CT","s":"m","d":91.2,"v":117},{"p":"d","m":"CT","s":"m","d":95,"v":117},{"p":"d","m":"CT","s":"m","d":99.5,"v":126},
{"p":"d","m":"CT","s":"1","d":10,"v":263},{"p":"d","m":"CT","s":"1","d":15,"v":479},{"p":"d","m":"CT","s":"1","d":20,"v":589},{"p":"d","m":"CT","s":"1","d":26,"v":661},{"p":"d","m":"CT","s":"1","d":32,"v":631},{"p":"d","m":"CT","s":"1","d":38,"v":562},{"p":"d","m":"CT","s":"1","d":45,"v":457},{"p":"d","m":"CT","s":"1","d":52,"v":389},{"p":"d","m":"CT","s":"1","d":58,"v":355},{"p":"d","m":"CT","s":"1","d":65,"v":316},{"p":"d","m":"CT","s":"1","d":72,"v":282},{"p":"d","m":"CT","s":"1","d":78,"v":257},{"p":"d","m":"CT","s":"1","d":84,"v":229},{"p":"d","m":"CT","s":"1","d":90,"v":200},{"p":"d","m":"CT","s":"1","d":95,"v":200},{"p":"d","m":"CT","s":"1","d":99.5,"v":200},
{"p":"d","m":"CT","s":"2","d":10,"v":263},{"p":"d","m":"CT","s":"2","d":15,"v":457},{"p":"d","m":"CT","s":"2","d":20,"v":562},{"p":"d","m":"CT","s":"2","d":26,"v":631},{"p":"d","m":"CT","s":"2","d":32,"v":589},{"p":"d","m":"CT","s":"2","d":38,"v":525},{"p":"d","m":"CT","s":"2","d":45,"v":427},{"p":"d","m":"CT","s":"2","d":52,"v":347},{"p":"d","m":"CT","s":"2","d":58,"v":302},{"p":"d","m":"CT","s":"2","d":65,"v":263},{"p":"d","m":"CT","s":"2","d":72,"v":200},{"p":"d","m":"CT","s":"2","d":76,"v":141},{"p":"d","m":"CT","s":"2","d":78.5,"v":93.3},{"p":"d","m":"CT","s":"2","d":80.8,"v":67.6},{"p":"d","m":"CT","s":"2","d":85,"v":70.8},{"p":"d","m":"CT","s":"2","d":90,"v":74.1},{"p":"d","m":"CT","s":"2","d":95,"v":69.2},{"p":"d","m":"CT","s":"2","d":99.5,"v":64.6},
{"p":"d","m":"CT","s":"3","d":10,"v":263},{"p":"d","m":"CT","s":"3","d":15,"v":468},{"p":"d","m":"CT","s":"3","d":26,"v":646},{"p":"d","m":"CT","s":"3","d":38,"v":537},{"p":"d","m":"CT","s":"3","d":52,"v":355},{"p":"d","m":"CT","s":"3","d":65,"v":269},{"p":"d","m":"CT","s":"3","d":75,"v":191},{"p":"d","m":"CT","s":"3","d":80,"v":132},{"p":"d","m":"CT","s":"3","d":85,"v":100},{"p":"d","m":"CT","s":"3","d":90,"v":85.1},{"p":"d","m":"CT","s":"3","d":95,"v":91.2},{"p":"d","m":"CT","s":"3","d":99.5,"v":95.5},
{"p":"d","m":"SMF","s":"m","d":10,"v":263},{"p":"d","m":"SMF","s":"m","d":12,"v":363},{"p":"d","m":"SMF","s":"m","d":15,"v":457},{"p":"d","m":"SMF","s":"m","d":18.4,"v":501},{"p":"d","m":"SMF","s":"m","d":22,"v":501},{"p":"d","m":"SMF","s":"m","d":26,"v":457},{"p":"d","m":"SMF","s":"m","d":29,"v":363},{"p":"d","m":"SMF","s":"m","d":32.6,"v":251},{"p":"d","m":"SMF","s":"m","d":37,"v":162},{"p":"d","m":"SMF","s":"m","d":42,"v":105},{"p":"d","m":"SMF","s":"m","d":46.8,"v":64.6},{"p":"d","m":"SMF","s":"m","d":51.5,"v":40.7},{"p":"d","m":"SMF","s":"m","d":56,"v":26.3},{"p":"d","m":"SMF","s":"m","d":61,"v":17},{"p":"d","m":"SMF","s":"m","d":65.7,"v":12},{"p":"d","m":"SMF","s":"m","d":72.3,"v":11},{"p":"d","m":"SMF","s":"m","d":75,"v":9.12},{"p":"d","m":"SMF","s":"m","d":78,"v":7.08},{"p":"d","m":"SMF","s":"m","d":80.5,"v":5.62},{"p":"d","m":"SMF","s":"m","d":82.7,"v":4.27},{"p":"d","m":"SMF","s":"m","d":84,"v":3.02},{"p":"d","m":"SMF","s":"m","d":85.5,"v":2.14},{"p":"d","m":"SMF","s":"m","d":87.4,"v":1},{"p":"d","m":"SMF","s":"m","d":89.5,"v":1},{"p":"d","m":"SMF","s":"m","d":90.3,"v":1.33},{"p":"d","m":"SMF","s":"m","d":91.3,"v":1.33},{"p":"d","m":"SMF","s":"m","d":92,"v":1},{"p":"d","m":"SMF","s":"m","d":95.5,"v":1},{"p":"d","m":"SMF","s":"m","d":96,"v":0.3},
{"p":"d","m":"SMF","s":"1","d":10,"v":263},{"p":"d","m":"SMF","s":"1","d":15,"v":479},{"p":"d","m":"SMF","s":"1","d":20,"v":525},{"p":"d","m":"SMF","s":"1","d":26,"v":479},{"p":"d","m":"SMF","s":"1","d":30,"v":363},{"p":"d","m":"SMF","s":"1","d":35,"v":240},{"p":"d","m":"SMF","s":"1","d":40,"v":158},{"p":"d","m":"SMF","s":"1","d":45,"v":100},{"p":"d","m":"SMF","s":"1","d":50,"v":60.3},{"p":"d","m":"SMF","s":"1","d":55,"v":38},{"p":"d","m":"SMF","s":"1","d":60,"v":24},{"p":"d","m":"SMF","s":"1","d":65,"v":16.6},{"p":"d","m":"SMF","s":"1","d":70,"v":15.1},{"p":"d","m":"SMF","s":"1","d":74,"v":13.8},{"p":"d","m":"SMF","s":"1","d":77,"v":9.55},{"p":"d","m":"SMF","s":"1","d":80,"v":6.31},{"p":"d","m":"SMF","s":"1","d":82,"v":3},{"p":"d","m":"SMF","s":"1","d":86,"v":3},{"p":"d","m":"SMF","s":"1","d":88,"v":2},{"p":"d","m":"SMF","s":"1","d":96,"v":2},{"p":"d","m":"SMF","s":"1","d":96.5,"v":0.3},
{"p":"d","m":"SMF","s":"2","d":10,"v":263},{"p":"d","m":"SMF","s":"2","d":15,"v":468},{"p":"d","m":"SMF","s":"2","d":20,"v":513},{"p":"d","m":"SMF","s":"2","d":26,"v":457},{"p":"d","m":"SMF","s":"2","d":30,"v":331},{"p":"d","m":"SMF","s":"2","d":35,"v":209},{"p":"d","m":"SMF","s":"2","d":40,"v":132},{"p":"d","m":"SMF","s":"2","d":45,"v":83.2},{"p":"d","m":"SMF","s":"2","d":50,"v":52.5},{"p":"d","m":"SMF","s":"2","d":55,"v":33.1},{"p":"d","m":"SMF","s":"2","d":60,"v":20.9},{"p":"d","m":"SMF","s":"2","d":65,"v":15.1},{"p":"d","m":"SMF","s":"2","d":70,"v":13.2},{"p":"d","m":"SMF","s":"2","d":73,"v":12.6},{"p":"d","m":"SMF","s":"2","d":76,"v":8.91},{"p":"d","m":"SMF","s":"2","d":79,"v":5.62},{"p":"d","m":"SMF","s":"2","d":81,"v":3.98},{"p":"d","m":"SMF","s":"2","d":85,"v":3},{"p":"d","m":"SMF","s":"2","d":87,"v":2},{"p":"d","m":"SMF","s":"2","d":89,"v":1},{"p":"d","m":"SMF","s":"2","d":90,"v":1},{"p":"d","m":"SMF","s":"2","d":90.5,"v":0.3},
{"p":"d","m":"SMF","s":"3","d":10,"v":263},{"p":"d","m":"SMF","s":"3","d":15,"v":457},{"p":"d","m":"SMF","s":"3","d":20,"v":501},{"p":"d","m":"SMF","s":"3","d":26,"v":437},{"p":"d","m":"SMF","s":"3","d":30,"v":302},{"p":"d","m":"SMF","s":"3","d":35,"v":178},{"p":"d","m":"SMF","s":"3","d":40,"v":100},{"p":"d","m":"SMF","s":"3","d":45,"v":52.5},{"p":"d","m":"SMF","s":"3","d":50,"v":26.3},{"p":"d","m":"SMF","s":"3","d":54,"v":14.1},{"p":"d","m":"SMF","s":"3","d":57,"v":7.08},{"p":"d","m":"SMF","s":"3","d":59,"v":3},{"p":"d","m":"SMF","s":"3","d":62,"v":3},{"p":"d","m":"SMF","s":"3","d":63.5,"v":0.3},
{"p":"d","m":"BP","s":"m","d":-1,"v":48},{"p":"d","m":"BP","s":"m","d":0,"v":50},{"p":"d","m":"BP","s":"m","d":1,"v":53},{"p":"d","m":"BP","s":"m","d":2,"v":62},{"p":"d","m":"BP","s":"m","d":3,"v":76},{"p":"d","m":"BP","s":"m","d":4,"v":95},{"p":"d","m":"BP","s":"m","d":5,"v":115},{"p":"d","m":"BP","s":"m","d":6,"v":135},{"p":"d","m":"BP","s":"m","d":7,"v":157},{"p":"d","m":"BP","s":"m","d":8,"v":183},{"p":"d","m":"BP","s":"m","d":9,"v":215},{"p":"d","m":"BP","s":"m","d":10,"v":263},{"p":"d","m":"BP","s":"m","d":12,"v":363},{"p":"d","m":"BP","s":"m","d":15,"v":427},{"p":"d","m":"BP","s":"m","d":18.4,"v":457},{"p":"d","m":"BP","s":"m","d":22,"v":447},{"p":"d","m":"BP","s":"m","d":26,"v":389},{"p":"d","m":"BP","s":"m","d":29,"v":302},{"p":"d","m":"BP","s":"m","d":32.6,"v":209},{"p":"d","m":"BP","s":"m","d":37,"v":126},{"p":"d","m":"BP","s":"m","d":42,"v":67.6},{"p":"d","m":"BP","s":"m","d":46.8,"v":28.8},{"p":"d","m":"BP","s":"m","d":51.5,"v":10},{"p":"d","m":"BP","s":"m","d":53.8,"v":6.61},{"p":"d","m":"BP","s":"m","d":56.2,"v":4.27},{"p":"d","m":"BP","s":"m","d":59.1,"v":3.02},{"p":"d","m":"BP","s":"m","d":61,"v":2},{"p":"d","m":"BP","s":"m","d":62.8,"v":1.26},{"p":"d","m":"BP","s":"m","d":63.5,"v":1},{"p":"d","m":"BP","s":"m","d":65.5,"v":1},{"p":"d","m":"BP","s":"m","d":66,"v":0.3},
{"p":"d","m":"BP","s":"1","d":10,"v":263},{"p":"d","m":"BP","s":"1","d":12,"v":363},{"p":"d","m":"BP","s":"1","d":15,"v":427},{"p":"d","m":"BP","s":"1","d":20,"v":447},{"p":"d","m":"BP","s":"1","d":26,"v":380},{"p":"d","m":"BP","s":"1","d":30,"v":263},{"p":"d","m":"BP","s":"1","d":35,"v":151},{"p":"d","m":"BP","s":"1","d":40,"v":79.4},{"p":"d","m":"BP","s":"1","d":44,"v":41.7},{"p":"d","m":"BP","s":"1","d":48,"v":19.1},{"p":"d","m":"BP","s":"1","d":51,"v":8.91},{"p":"d","m":"BP","s":"1","d":53,"v":3.98},{"p":"d","m":"BP","s":"1","d":54.5,"v":2},{"p":"d","m":"BP","s":"1","d":55,"v":0.3},
{"p":"d","m":"BP","s":"2","d":10,"v":263},{"p":"d","m":"BP","s":"2","d":12,"v":363},{"p":"d","m":"BP","s":"2","d":15,"v":437},{"p":"d","m":"BP","s":"2","d":20,"v":457},{"p":"d","m":"BP","s":"2","d":26,"v":398},{"p":"d","m":"BP","s":"2","d":30,"v":288},{"p":"d","m":"BP","s":"2","d":35,"v":174},{"p":"d","m":"BP","s":"2","d":40,"v":91.2},{"p":"d","m":"BP","s":"2","d":44,"v":50.1},{"p":"d","m":"BP","s":"2","d":48,"v":24},{"p":"d","m":"BP","s":"2","d":52,"v":11.2},{"p":"d","m":"BP","s":"2","d":55,"v":6.31},{"p":"d","m":"BP","s":"2","d":57.5,"v":3},{"p":"d","m":"BP","s":"2","d":60,"v":3},{"p":"d","m":"BP","s":"2","d":61,"v":2},{"p":"d","m":"BP","s":"2","d":63,"v":2},{"p":"d","m":"BP","s":"2","d":64,"v":1},{"p":"d","m":"BP","s":"2","d":64.5,"v":0.3}
]},
"columns":2,
"bounds":"flush",
"spacing":{"row":44,"column":30},
"resolve":{"scale":{"color":"shared"},"legend":{"color":"shared"}},
"concat":[
{"title":"625 obs","width":356,"height":249,
 "layer":[
  {"data":{"values":[{"d":10}]},"mark":{"type":"rule","color":"#333","strokeDash":[6,3.5],"strokeWidth":1.3},
   "encoding":{"x":{"field":"d","type":"quantitative","scale":{"domain":[-1,100],"nice":false,"zero":false},"axis":{"values":[0,20,40,60,80,100],"labels":false,"title":null,"tickSize":5}}}},
  {"data":{"name":"c"},"transform":[{"filter":"datum.p=='a'"}],
   "encoding":{
    "x":{"field":"d","type":"quantitative","scale":{"domain":[-1,100],"nice":false,"zero":false},"axis":{"values":[0,20,40,60,80,100],"labels":false,"title":null,"tickSize":5}},
    "y":{"field":"v","type":"quantitative","scale":{"type":"log","domain":[1,400000],"nice":false},"axis":{"values":[1,2,3,4,5,6,7,8,9,10,20,30,40,50,60,70,80,90,100,200,300,400,500,600,700,800,900,1000,2000,3000,4000,5000,6000,7000,8000,9000,10000,20000,30000,40000,50000,60000,70000,80000,90000,100000,200000,300000,400000],"labelExpr":"indexof([1,10,100,1000,10000,100000], datum.value) >= 0 ? '10' + ['⁰','¹','²','³','⁴','⁵'][round(log(datum.value)/LN10)] : ''","labelFontSize":{"condition":{"test":"indexof([1,10,100,1000,10000,100000], datum.value) >= 0","value":19},"value":0},"labelOverlap":false,"labelBound":false,"tickSize":{"condition":{"test":"indexof([1,10,100,1000,10000,100000], datum.value) >= 0","value":5},"value":2.5},"labelPadding":2,"title":"Number of infected","titlePadding":6}},
    "color":{"field":"m","type":"nominal","scale":{"domain":["RG","CT","SMF","BP"],"range":["#bdbdbd","#8f8bc8","#5cb46f","#f27a2a"]},"legend":{"orient":"none","legendX":12,"legendY":175,"columns":2,"title":null,"symbolType":"M-1,0H3.4","symbolSize":400,"symbolStrokeWidth":4,"symbolOpacity":1,"labelFontSize":19,"labelFont":"DejaVu Sans","labelColor":"#000","labelOffset":35,"rowPadding":7,"columnPadding":10,"padding":6,"strokeColor":"#cccccc","fillColor":"rgba(255,255,255,0.8)","cornerRadius":4}},
    "detail":[{"field":"m"},{"field":"s"}]},
   "layer":[
    {"transform":[{"filter":"datum.s!='m'"}],"mark":{"type":"line","strokeWidth":1,"opacity":0.6,"clip":true,"interpolate":"monotone"}},
    {"transform":[{"filter":"datum.s=='m'"}],"mark":{"type":"line","strokeWidth":4,"clip":true,"interpolate":"monotone"}}
   ]}
 ]},
{"title":"1250 obs","width":356,"height":249,
 "layer":[
  {"data":{"values":[{"d":10}]},"mark":{"type":"rule","color":"#333","strokeDash":[6,3.5],"strokeWidth":1.3},
   "encoding":{"x":{"field":"d","type":"quantitative","scale":{"domain":[-1,100],"nice":false,"zero":false},"axis":{"values":[0,20,40,60,80,100],"labels":false,"title":null,"tickSize":5}}}},
  {"data":{"name":"c"},"transform":[{"filter":"datum.p=='b'"}],
   "encoding":{
    "x":{"field":"d","type":"quantitative","scale":{"domain":[-1,100],"nice":false,"zero":false},"axis":{"values":[0,20,40,60,80,100],"labels":false,"title":null,"tickSize":5}},
    "y":{"field":"v","type":"quantitative","scale":{"type":"log","domain":[1,400000],"nice":false},"axis":{"values":[1,2,3,4,5,6,7,8,9,10,20,30,40,50,60,70,80,90,100,200,300,400,500,600,700,800,900,1000,2000,3000,4000,5000,6000,7000,8000,9000,10000,20000,30000,40000,50000,60000,70000,80000,90000,100000,200000,300000,400000],"labels":false,"title":null,"tickSize":{"condition":{"test":"indexof([1,10,100,1000,10000,100000], datum.value) >= 0","value":5},"value":2.5}}},
    "color":{"field":"m","type":"nominal","scale":{"domain":["RG","CT","SMF","BP"],"range":["#bdbdbd","#8f8bc8","#5cb46f","#f27a2a"]},"legend":{"orient":"none","legendX":12,"legendY":175,"columns":2,"title":null,"symbolType":"M-1,0H3.4","symbolSize":400,"symbolStrokeWidth":4,"symbolOpacity":1,"labelFontSize":19,"labelFont":"DejaVu Sans","labelColor":"#000","labelOffset":35,"rowPadding":7,"columnPadding":10,"padding":6,"strokeColor":"#cccccc","fillColor":"rgba(255,255,255,0.8)","cornerRadius":4}},
    "detail":[{"field":"m"},{"field":"s"}]},
   "layer":[
    {"transform":[{"filter":"datum.s!='m'"}],"mark":{"type":"line","strokeWidth":1,"opacity":0.6,"clip":true,"interpolate":"monotone"}},
    {"transform":[{"filter":"datum.s=='m'"}],"mark":{"type":"line","strokeWidth":4,"clip":true,"interpolate":"monotone"}}
   ]}
 ]},
{"title":"2500 obs","width":356,"height":248,
 "layer":[
  {"data":{"values":[{"d":10}]},"mark":{"type":"rule","color":"#333","strokeDash":[6,3.5],"strokeWidth":1.3},
   "encoding":{"x":{"field":"d","type":"quantitative","scale":{"domain":[-1,100],"nice":false,"zero":false},"axis":{"values":[0,20,40,60,80,100],"title":"Day","labelFlush":false,"labelOverlap":false,"tickSize":5,"labelPadding":0,"titlePadding":2}}}},
  {"data":{"name":"c"},"transform":[{"filter":"datum.p=='c'"}],
   "encoding":{
    "x":{"field":"d","type":"quantitative","scale":{"domain":[-1,100],"nice":false,"zero":false},"axis":{"values":[0,20,40,60,80,100],"title":"Day","labelFlush":false,"labelOverlap":false,"tickSize":5,"labelPadding":0,"titlePadding":2}},
    "y":{"field":"v","type":"quantitative","scale":{"type":"log","domain":[1,400000],"nice":false},"axis":{"values":[1,2,3,4,5,6,7,8,9,10,20,30,40,50,60,70,80,90,100,200,300,400,500,600,700,800,900,1000,2000,3000,4000,5000,6000,7000,8000,9000,10000,20000,30000,40000,50000,60000,70000,80000,90000,100000,200000,300000,400000],"labelExpr":"indexof([1,10,100,1000,10000,100000], datum.value) >= 0 ? '10' + ['⁰','¹','²','³','⁴','⁵'][round(log(datum.value)/LN10)] : ''","labelFontSize":{"condition":{"test":"indexof([1,10,100,1000,10000,100000], datum.value) >= 0","value":19},"value":0},"labelOverlap":false,"labelBound":false,"tickSize":{"condition":{"test":"indexof([1,10,100,1000,10000,100000], datum.value) >= 0","value":5},"value":2.5},"labelPadding":2,"title":"Number of infected","titlePadding":6}},
    "color":{"field":"m","type":"nominal","scale":{"domain":["RG","CT","SMF","BP"],"range":["#bdbdbd","#8f8bc8","#5cb46f","#f27a2a"]},"legend":{"orient":"none","legendX":12,"legendY":175,"columns":2,"title":null,"symbolType":"M-1,0H3.4","symbolSize":400,"symbolStrokeWidth":4,"symbolOpacity":1,"labelFontSize":19,"labelFont":"DejaVu Sans","labelColor":"#000","labelOffset":35,"rowPadding":7,"columnPadding":10,"padding":6,"strokeColor":"#cccccc","fillColor":"rgba(255,255,255,0.8)","cornerRadius":4}},
    "detail":[{"field":"m"},{"field":"s"}]},
   "layer":[
    {"transform":[{"filter":"datum.s!='m'"}],"mark":{"type":"line","strokeWidth":1,"opacity":0.6,"clip":true,"interpolate":"monotone"}},
    {"transform":[{"filter":"datum.s=='m'"}],"mark":{"type":"line","strokeWidth":4,"clip":true,"interpolate":"monotone"}}
   ]}
 ]},
{"title":"5000 obs","width":356,"height":248,
 "layer":[
  {"data":{"values":[{"d":10}]},"mark":{"type":"rule","color":"#333","strokeDash":[6,3.5],"strokeWidth":1.3},
   "encoding":{"x":{"field":"d","type":"quantitative","scale":{"domain":[-1,100],"nice":false,"zero":false},"axis":{"values":[0,20,40,60,80,100],"title":"Day","labelFlush":false,"labelOverlap":false,"tickSize":5,"labelPadding":0,"titlePadding":2}}}},
  {"data":{"name":"c"},"transform":[{"filter":"datum.p=='d'"}],
   "encoding":{
    "x":{"field":"d","type":"quantitative","scale":{"domain":[-1,100],"nice":false,"zero":false},"axis":{"values":[0,20,40,60,80,100],"title":"Day","labelFlush":false,"labelOverlap":false,"tickSize":5,"labelPadding":0,"titlePadding":2}},
    "y":{"field":"v","type":"quantitative","scale":{"type":"log","domain":[1,400000],"nice":false},"axis":{"values":[1,2,3,4,5,6,7,8,9,10,20,30,40,50,60,70,80,90,100,200,300,400,500,600,700,800,900,1000,2000,3000,4000,5000,6000,7000,8000,9000,10000,20000,30000,40000,50000,60000,70000,80000,90000,100000,200000,300000,400000],"labels":false,"title":null,"tickSize":{"condition":{"test":"indexof([1,10,100,1000,10000,100000], datum.value) >= 0","value":5},"value":2.5}}},
    "color":{"field":"m","type":"nominal","scale":{"domain":["RG","CT","SMF","BP"],"range":["#bdbdbd","#8f8bc8","#5cb46f","#f27a2a"]},"legend":{"orient":"none","legendX":12,"legendY":175,"columns":2,"title":null,"symbolType":"M-1,0H3.4","symbolSize":400,"symbolStrokeWidth":4,"symbolOpacity":1,"labelFontSize":19,"labelFont":"DejaVu Sans","labelColor":"#000","labelOffset":35,"rowPadding":7,"columnPadding":10,"padding":6,"strokeColor":"#cccccc","fillColor":"rgba(255,255,255,0.8)","cornerRadius":4}},
    "detail":[{"field":"m"},{"field":"s"}]},
   "layer":[
    {"transform":[{"filter":"datum.s!='m'"}],"mark":{"type":"line","strokeWidth":1,"opacity":0.6,"clip":true,"interpolate":"monotone"}},
    {"transform":[{"filter":"datum.s=='m'"}],"mark":{"type":"line","strokeWidth":4,"clip":true,"interpolate":"monotone"}}
   ]}
 ]}
]
}
